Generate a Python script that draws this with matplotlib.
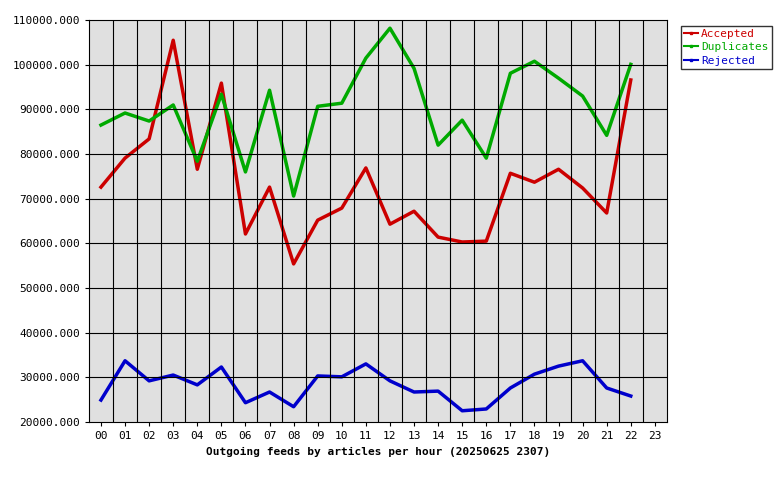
import matplotlib
matplotlib.use('Agg')
import matplotlib.pyplot as plt
from matplotlib.ticker import FuncFormatter, MultipleLocator

plt.rcParams['font.family'] = 'DejaVu Sans Mono'

hours = ['%02d' % h for h in range(24)]
accepted = [72600, 79100, 83400, 105500, 76600, 95900, 62100, 72600, 55400, 65200, 67900, 76900,
            64300, 67200, 61400, 60300, 60500, 75700, 73700, 76600, 72400, 66800, 96600]
duplicates = [86500, 89200, 87400, 91000, 78400, 93400, 76000, 94300, 70600, 90700, 91400, 101500,
              108200, 99200, 82000, 87600, 79100, 98100, 100800, 97000, 93000, 84200, 100100]
rejected = [24900, 33700, 29200, 30500, 28300, 32300, 24300, 26700, 23400, 30300, 30100, 33000,
            29200, 26700, 26900, 22500, 22900, 27600, 30700, 32500, 33700, 27600, 25800]

fig = plt.figure(figsize=(7.8, 4.8), dpi=100)
ax = fig.add_axes([0.114, 0.121, 0.741, 0.837])
ax.set_facecolor('#e0e0e0')

x = range(len(accepted))
ax.plot(x, accepted, color='#cc0000', lw=2.5, label='Accepted')
ax.plot(x, duplicates, color='#00aa00', lw=2.5, label='Duplicates')
ax.plot(x, rejected, color='#0000cc', lw=2.5, label='Rejected')

ax.set_xlim(-0.5, 23.5)
ax.set_ylim(20000, 110000)
ax.set_xticks(range(24))
ax.set_xticklabels(hours, fontsize=8)
ax.yaxis.set_major_locator(MultipleLocator(10000))
ax.yaxis.set_major_formatter(FuncFormatter(lambda v, p: '%d.000' % v))
ax.tick_params(axis='y', labelsize=8)
ax.tick_params(length=3)
for v in range(30000, 110000, 10000):
    ax.axhline(v, color='black', lw=0.8)
for i in range(23):
    ax.axvline(i + 0.5, color='black', lw=0.8)
ax.set_xlabel('Outgoing feeds by articles per hour (20250625 2307)', fontsize=8, fontweight='bold')

leg = ax.legend(loc='upper left', bbox_to_anchor=(1.015, 1.0), fontsize=8, frameon=True,
                fancybox=False, edgecolor='black', handlelength=1.2, borderpad=0.3,
                labelspacing=0.3, handletextpad=0.3)
for line, text in zip(leg.get_lines(), leg.get_texts()):
    line.set_linewidth(1.5)
    line.set_marker('s')
    line.set_markersize(2)
    text.set_color(line.get_color())

fig.savefig('out.png', dpi=100)
